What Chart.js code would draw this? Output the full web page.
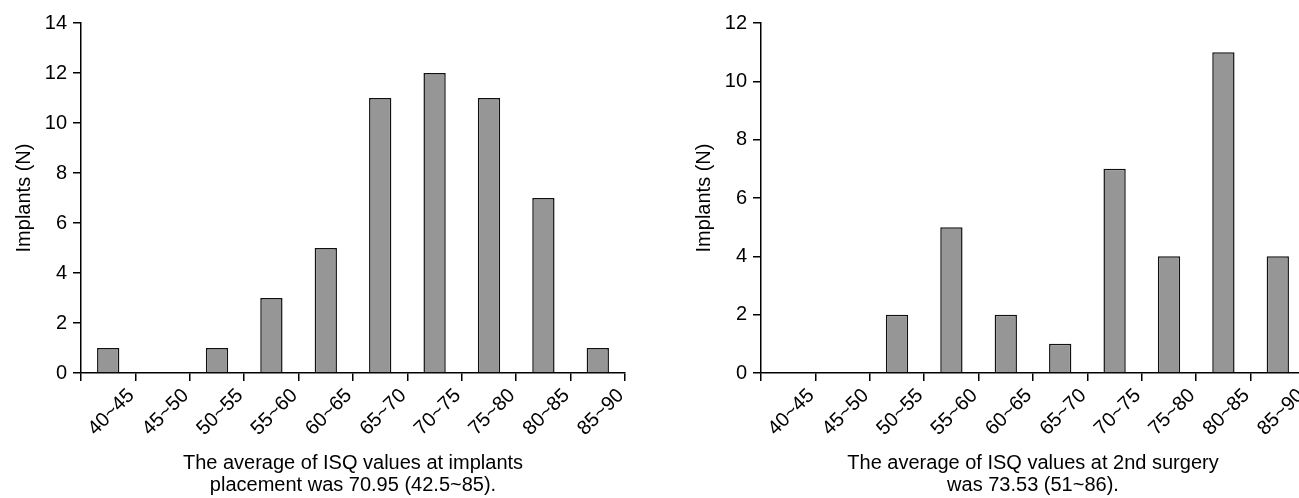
<!DOCTYPE html>
<html>
<head>
<meta charset="utf-8">
<script src="https://cdn.jsdelivr.net/npm/chart.js@4.4.1/dist/chart.umd.min.js"></script>
<style>
  html, body { margin: 0; padding: 0; background: #fff; width: 1299px; height: 498px; overflow: hidden; }
  canvas { position: absolute; top: 0; }
  #chartLeft { left: 0; }
  #chartRight { left: 680px; }
</style>
</head>
<body>
<canvas id="chartLeft" width="650" height="498"></canvas>
<canvas id="chartRight" width="650" height="498"></canvas>
<script>
// categorias (rangos ISQ)
const rangos = ['40~45', '45~50', '50~55', '55~60', '60~65', '65~70', '70~75', '75~80', '80~85', '85~90']

// implantes por rango
const colocacion = [1, 0, 1, 3, 5, 11, 12, 11, 7, 1]
const segundaCirugia = [0, 0, 2, 5, 2, 1, 7, 4, 11, 4]

const tituloY = 'Implants (N)'
const tituloColocacion = ['The average of ISQ values at implants', 'placement was 70.95 (42.5~85).']
const tituloSegunda = ['The average of ISQ values at 2nd surgery', 'was 73.53 (51~86).']

Chart.defaults.font.family = "'Liberation Sans', Arial, sans-serif"
Chart.defaults.font.size = 20
Chart.defaults.color = '#000'

function crearGrafico(id, datos, maxY, tituloX) {
    const ctx = document.getElementById(id)
    return new Chart(ctx, {
        type: 'bar',
        data: {
            labels: rangos,
            datasets: [{
                data: datos,
                backgroundColor: '#969696',
                borderColor: '#111',
                borderWidth: 1.5,
                categoryPercentage: 1,
                barPercentage: 0.41
            }]
        },
        options: {
            responsive: false,
            animation: false,
            layout: { padding: { top: 23, right: 25, left: 0, bottom: 0 } },
            plugins: { legend: { display: false }, tooltip: { enabled: false } },
            scales: {
                x: {
                    border: { color: '#000', width: 1.5 },
                    grid: { drawOnChartArea: false, drawTicks: true, tickLength: 8, color: '#000', lineWidth: 1.5 },
                    ticks: { autoSkip: false, minRotation: 45, maxRotation: 45, labelOffset: 23, padding: 3 },
                    title: { display: true, text: tituloX, font: { size: 20, lineHeight: 1.1 }, padding: { top: 0, bottom: 2 } },
                    afterFit: (scale) => { scale.height = 125 }
                },
                y: {
                    min: 0,
                    max: maxY,
                    border: { color: '#000', width: 1.5 },
                    grid: { drawOnChartArea: false, drawTicks: true, tickLength: 8, color: '#000', lineWidth: 1.5 },
                    ticks: { stepSize: 2, padding: 6 },
                    title: { display: true, text: tituloY, font: { size: 20, lineHeight: 1.1 }, padding: { top: 13, bottom: 0 } },
                    afterFit: (scale) => { scale.width = 81 }
                }
            }
        }
    })
}

crearGrafico('chartLeft', colocacion, 14, tituloColocacion)
crearGrafico('chartRight', segundaCirugia, 12, tituloSegunda)
</script>
</body>
</html>
